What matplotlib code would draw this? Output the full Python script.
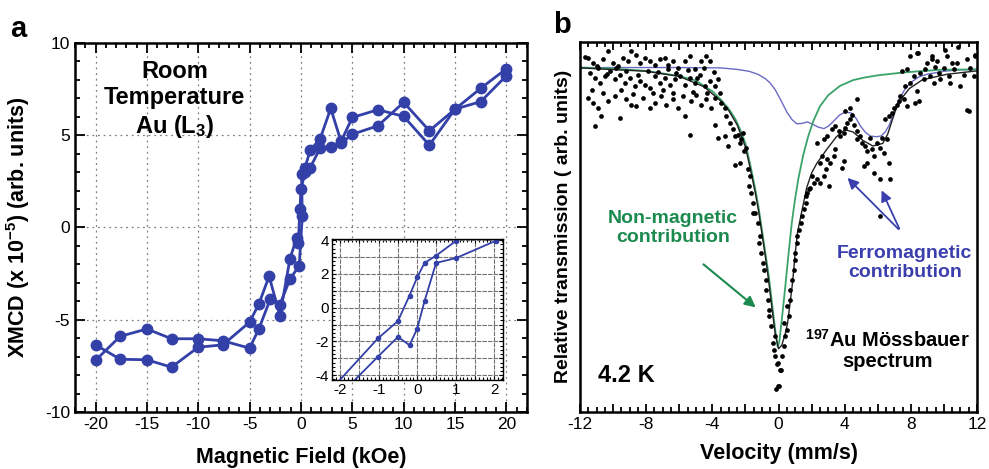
import matplotlib
matplotlib.use("Agg")
import matplotlib.pyplot as plt
from matplotlib.ticker import MultipleLocator, FuncFormatter

plt.rcParams['font.family'] = ['Liberation Sans', 'DejaVu Sans']
plt.rcParams['mathtext.fontset'] = 'custom'
plt.rcParams['mathtext.rm'] = 'Liberation Sans'
plt.rcParams['mathtext.bf'] = 'Liberation Sans:bold'
plt.rcParams['mathtext.it'] = 'Liberation Sans:italic'
plt.rcParams['axes.unicode_minus'] = False

# ---- (a) laco XMCD, dois ramos ----
campo_sobe = [-20, -17.6, -15, -12.6, -10, -7.6, -5, -4.1, -3.0, -2.05, -1.07, -0.17, 0.13,
              0.06, 0.4, 0.9, 1.85, 2.9, 3.9, 5.0, 7.5, 10, 12.5, 15, 17.5, 20]
xmcd_sobe = [-7.2, -5.9, -5.5, -6.03, -6.03, -6.14, -6.54, -5.5, -3.9, -4.18, -2.8, -2.07, 0.61,
             2.88, 3.24, 4.2, 4.78, 6.45, 4.66, 5.96, 6.38, 6.02, 4.46, 6.41, 6.82, 8.22]
campo_desce = [20, 17.5, 15, 12.5, 10, 7.5, 5, 3.9, 2.9, 1.85, 0.9, 0.4, 0.0, -0.1, -0.26,
               -0.42, -1.07, -2.05, -3.1, -4.1, -5, -7.6, -10, -12.6, -15, -17.6, -20]
xmcd_desce = [8.6, 7.54, 6.41, 5.24, 6.78, 5.51, 5.05, 4.55, 4.38, 4.28, 3.24, 3.0, 2.07, 0.98, -0.83,
              -0.56, -1.7, -4.78, -2.64, -4.15, -5.13, -6.36, -6.49, -7.57, -7.17, -7.14, -6.36]

# inset
campo_in1 = [-2.5, -1.02, -0.5, -0.2, 0.0, 0.19, 0.49, 1.01, 2.0]
xmcd_in1 = [-5.5, -1.82, -0.79, 0.72, 1.8, 2.65, 3.08, 3.96, 5.0]
campo_in2 = [-2.5, -1.02, -0.5, -0.2, 0.0, 0.19, 0.49, 1.01, 2.04]
xmcd_in2 = [-6.3, -2.9, -1.73, -2.22, -1.24, 0.39, 2.65, 2.94, 3.96]

# ---- (b) espectro Mossbauer ----
vel_dados = [-11.52, -11.21, -10.91, -10.61, -10.31, -10.01, -9.70, -9.40, -9.10, -8.90, -8.60, -8.40,
             -8.10, -7.79, -7.49, -7.19, -6.89, -6.68, -6.38, -6.08, -5.68, -5.38, -5.07, -4.67, -4.37, -4.17,
             -11.42, -11.11, -10.81, -10.51, -10.21, -9.91, -9.60, -9.30, -9.00, -8.70, -8.40, -8.10, -7.79,
             -7.49, -7.19, -6.89, -6.58, -6.28, -5.98, -5.68, -5.38, -5.07, -4.77, -4.47, -4.17, -3.87, -3.67,
             -11.52, -11.21, -10.91, -10.71, -10.31, -9.91, -9.20, -8.90, -8.60, -8.20, -7.79, -7.49, -7.09,
             -6.79, -6.38, -6.08, -5.68, -5.28, -4.97, -4.67, -4.37, -4.07, -3.87, -3.56, -3.46, -3.26,
             -11.11, -9.60, -5.38, -3.87, -3.26, -3.06, -3.67,
             -3.16, -2.96, -2.76, -2.66, -2.46, -2.36, -2.26, -2.16, -2.06, -1.96, -2.66, -2.36, -1.85, -1.75,
             -1.81, -1.65, -1.55, -1.55, -1.45, -1.25, -1.15, -1.20, -1.05, -0.95, -0.85, -0.75, -0.75, -0.65,
             -0.55, -0.55, -0.44, -0.24, -0.34, -0.24, -0.04, 0.06, -0.04, -0.14,
             -0.28, -0.08, 0.02, 0.12, 0.22, 0.32, 0.42, 0.52, 0.32, 0.62, 0.52, 0.72, 0.72, 0.82, 0.92, 1.02,
             1.02, 1.12, 1.12, 1.23, 1.33, 1.43, 1.53, 1.63, 1.63, 1.73, 1.83, 1.93, 2.13, 2.03, 2.33, 2.53,
             2.73, 2.84, 2.94, 3.04, 3.14, 3.34, 3.44, 2.53, 2.63, 2.33, 2.73, 2.94, 3.24, 3.44, 3.64, 3.74,
             3.94, 4.04, 4.14, 4.35, 4.55, 4.75, 4.95, 3.84, 3.94, 4.04, 4.35, 4.45, 4.75, 5.05, 5.25, 5.35,
             5.55, 5.65, 5.75, 5.96, 6.16, 6.26, 6.36, 6.56, 6.66, 5.75, 6.16, 6.76, 5.15, 5.35, 6.16, 6.46,
             6.66, 6.86, 6.96, 7.16, 7.26, 7.36, 7.57, 7.67, 7.77, 7.97, 8.17, 8.27, 8.37, 8.47, 8.57, 8.77,
             8.87, 8.98, 9.18, 9.28, 9.38, 9.58, 9.68, 9.78, 9.98, 10.18, 10.28, 10.38, 10.59, 10.79, 10.99,
             11.19, 11.39, 11.49, 11.59, 11.79, 11.89, 7.77, 7.47, 7.97, 8.37, 4.75,
             8.45, 9.26, 10.06, 10.87, 11.87, 10.46, 9.46, 11.37,
             -11.68, -11.0, -10.4, -9.8, -9.2, -8.5, -7.9, -7.3, -6.7, -6.2, -5.5, -4.9, -4.5, -3.9,
             -11.3, -10.6, -9.5, -8.8, -7.6, -7.0, -6.4, -5.8, -5.2, -4.3]
trans_dados = [95.6, 94.3, 92.9, 95.2, 97.4, 94.3, 93.4, 95.6, 94.7, 97.4, 96.5, 94.3,
               95.6, 94.7, 93.8, 95.2, 95.6, 93.8, 94.7, 92.9, 94.7, 96.1, 92.5, 94.7, 96.1, 94.7,
               91.6, 90.2, 88.9, 90.7, 92.0, 89.8, 91.1, 88.9, 90.2, 88.0, 89.3, 88.4, 87.5,
               90.7, 88.9, 90.2, 88.4, 89.8, 90.7, 88.4, 90.2, 88.9, 91.1, 88.0, 89.3, 88.0, 89.8,
               84.8, 83.5, 82.1, 79.9, 83.9, 85.3, 84.4, 83.0, 82.6, 84.8, 82.1, 83.5, 85.3,
               83.0, 84.4, 82.1, 79.9, 83.9, 85.7, 83.0, 84.4, 82.1, 84.8, 86.2, 83.5, 82.1,
               77.2, 79.4, 74.9, 77.6, 74.5, 71.8, 74.0,
               79.9, 78.1, 76.3, 74.5, 74.9, 72.7, 73.6, 75.4, 70.4, 71.3, 66.8, 67.3, 65.5, 63.7,
               61.0, 59.2, 56.5, 53.8, 53.8, 51.0, 47.4, 45.6, 42.9, 40.2, 38.4, 35.7, 33.0, 30.3,
               27.6, 25.8, 23.1, 20.4, 18.6, 15.0, 13.2, 11.4, 6.9, 6.0,
               16.8, 12.8, 6.9, 11.4, 15.0, 17.7, 20.4, 22.2, 24.0, 25.8, 28.5, 30.3, 33.0, 35.7, 38.4, 41.1,
               42.9, 45.6, 47.4, 49.2, 51.0, 52.8, 54.7, 56.5, 58.3, 59.2, 60.1, 60.5, 61.9, 63.7, 62.8, 61.9,
               63.7, 65.5, 68.2, 61.0, 67.3, 69.1, 70.9, 67.3, 69.1, 72.7, 73.6, 74.5, 76.3, 77.2, 75.8, 74.5,
               75.4, 76.7, 78.1, 79.0, 77.6, 75.8, 74.5, 65.9, 67.7, 81.2, 82.1, 80.3, 73.6, 72.7, 71.8, 70.4,
               74.0, 70.9, 69.1, 72.7, 71.3, 74.0, 70.0, 73.6, 67.3, 64.6, 62.8, 62.8, 66.4, 67.3, 52.9, 79.0,
               79.9, 80.8, 82.1, 83.0, 83.9, 85.3, 84.4, 88.0, 82.6, 88.9, 90.7, 83.5, 86.6, 83.9, 91.6, 89.8,
               92.5, 94.3, 90.7, 95.2, 88.9, 94.7, 91.6, 89.8, 93.0, 96.1, 90.7, 88.9, 92.5, 94.3, 88.0,
               91.1, 95.2, 81.2, 93.0, 90.7, 96.1, 92.5, 92.0, 96.1, 97.0, 84.4,
               96.9, 96.0, 97.8, 98.6, 96.4, 94.2, 93.2, 81.5,
               95.9, 93.5, 91.3, 93.0, 92.0, 91.0, 92.2, 91.8, 92.6, 91.5, 92.4, 90.3, 92.8, 91.9,
               87.0, 86.2, 86.8, 85.9, 86.1, 86.9, 86.0, 85.4, 86.5, 86.0]

# ajuste total (preto)
vel_fit = [-12, -8, -6, -4.5, -3.5, -3, -2.5, -2.0, -1.7, -1.4, -1.2, -1.0, -0.8, -0.6, -0.4, -0.2,
           0.0, 0.2, 0.4, 0.55, 0.7, 0.85, 1.0, 1.15, 1.4, 1.7, 2.0, 2.3, 2.9, 3.5, 4.0, 4.5, 5.1,
           5.7, 6.3, 6.6, 6.8, 7.1, 7.5, 7.9, 8.7, 10.2, 12]
trans_fit = [92.9, 92.0, 90.6, 87.8, 84.0, 81.3, 77.5, 71.5, 65.5, 59.0, 54.0, 48.0, 42.0, 35.5, 28.0, 21.0,
             17.0, 18.0, 21.0, 24.0, 29.5, 35.0, 42.5, 48.5, 54.0, 60.5, 64.5, 67.0, 70.8, 74.3, 76.2, 75.6, 73.3,
             71.8, 72.5, 75.0, 77.8, 81.8, 85.0, 87.3, 89.7, 91.2, 92.1]

# componente nao magnetica (verde)
vel_nm = [-12, -10, -8, -6, -5, -4.5, -4, -3.5, -3, -2.6, -2.3, -2.0, -1.7, -1.4, -1.2, -1.0, -0.8,
          -0.6, -0.4, -0.2, -0.05, 0.05, 0.2, 0.4, 0.6, 0.8, 1.0, 1.2, 1.5, 1.8, 2.1, 2.5, 3.0, 3.7,
          4.5, 5.2, 6.0, 7.4, 8.5, 9.8, 12]
trans_nm = [93.0, 92.7, 92.1, 90.7, 89.5, 88.0, 86.6, 84.4, 81.8, 79.0, 76.0, 72.5, 66.5, 60.0, 55.0, 49.0, 43.0,
            37.0, 29.5, 22.0, 17.5, 19.0, 25.0, 33.5, 42.5, 51.0, 57.5, 63.0, 69.5, 74.5, 78.5, 82.5, 85.5, 88.0,
            89.6, 90.3, 90.9, 91.6, 92.0, 92.4, 92.5]

# componente ferromagnetica (azul)
vel_fm = [-12, -6, -3.5, -2.5, -1.8, -1.25, -0.8, -0.5, -0.2, 0.1, 0.5, 0.8, 1.1, 1.4, 1.75, 2.1, 2.4,
          2.75, 3.05, 3.35, 3.7, 4.05, 4.4, 4.7, 4.95, 5.25, 5.55, 5.9, 6.2, 6.45, 6.7, 7.0, 7.3, 7.65,
          8.0, 8.5, 9.0, 10.0, 11.0, 12.0]
trans_fm = [93.0, 93.0, 92.9, 92.5, 92.0, 91.2, 90.0, 88.8, 87.0, 84.5, 81.0, 79.0, 77.8, 77.9, 78.3, 77.6, 76.9,
            76.5, 77.3, 78.6, 80.2, 81.0, 80.7, 79.2, 77.2, 75.5, 74.5, 74.3, 74.5, 75.6, 77.5, 81.0, 84.5, 87.2,
            89.0, 90.5, 91.2, 92.0, 92.4, 92.5]

azul = '#3340a8'
verde_txt = '#1b8a4e'
verde = '#3aa36b'
azul_fit = '#6a6ac4'
azul_txt = '#3b3fae'

fig = plt.figure(figsize=(9.89, 4.69), dpi=100)

# ---------- painel a ----------
ax = fig.add_axes([0.0758, 0.1215, 0.457, 0.787])
ax.plot(campo_sobe, xmcd_sobe, 'o-', color=azul, lw=2, ms=7.5)
ax.plot(campo_desce, xmcd_desce, 'o-', color=azul, lw=2, ms=7.5)
ax.set_xlim(-22, 22)
ax.set_ylim(-10, 10)
ax.xaxis.set_major_locator(MultipleLocator(5))
ax.xaxis.set_minor_locator(MultipleLocator(1))
ax.yaxis.set_major_locator(MultipleLocator(5))
ax.yaxis.set_minor_locator(MultipleLocator(1))
ax.tick_params(which='both', direction='in', top=True, right=True, labelsize=12.5, width=1.3)
ax.tick_params(which='major', length=7)
ax.tick_params(which='minor', length=3.5)
ax.grid(True, which='major', linestyle=(0, (1.5, 3)), color='0.5', lw=0.9)
for s in ax.spines.values():
    s.set_linewidth(1.8)
ax.set_xlabel('Magnetic Field (kOe)', fontsize=15.5, fontweight='bold')
ax.set_ylabel(r'XMCD (x 10$^{\mathbf{-5}}$) (arb. units)', fontsize=15.5, fontweight='bold')
ax.xaxis.set_label_coords(0.5, -0.095)
ax.yaxis.set_label_coords(-0.095, 0.5)
ax.text(-12.3, 9.1, 'Room\nTemperature\nAu (L$_{\\mathbf{3}}$)', fontsize=17, fontweight='bold',
        ha='center', va='top', multialignment='center', linespacing=1.2)

# inset
axi = fig.add_axes([0.3354, 0.1898, 0.1729, 0.300])
axi.set_facecolor('white')
axi.plot(campo_in1, xmcd_in1, 'o-', color=azul, lw=1.3, ms=3)
axi.plot(campo_in2, xmcd_in2, 'o-', color=azul, lw=1.3, ms=3)
axi.set_xlim(-2.22, 2.22)
axi.set_ylim(-4.28, 4.05)
axi.xaxis.set_major_locator(MultipleLocator(0.5))
axi.xaxis.set_minor_locator(MultipleLocator(0.1))
axi.yaxis.set_major_locator(MultipleLocator(1))
axi.yaxis.set_minor_locator(MultipleLocator(0.25))
axi.xaxis.set_major_formatter(FuncFormatter(lambda v, p: '%d' % round(v) if abs(v - round(v)) < 1e-6 else ''))
axi.yaxis.set_major_formatter(FuncFormatter(lambda v, p: '%d' % round(v) if round(v) % 2 == 0 and abs(v - round(v)) < 1e-6 else ''))
axi.tick_params(which='both', direction='in', top=True, right=True, labelsize=11, width=0.8, pad=2)
axi.tick_params(which='major', length=3)
axi.tick_params(which='minor', length=2)
axi.grid(True, which='major', color='0.45', lw=0.8, linestyle=(0, (4, 1)))
for s in axi.spines.values():
    s.set_linewidth(1.0)

# ---------- painel b ----------
bx = fig.add_axes([0.5865, 0.1222, 0.4014, 0.789])
bx.plot(vel_fm, trans_fm, '-', color=azul_fit, lw=1.0)
bx.plot(vel_nm, trans_nm, '-', color=verde, lw=1.3)
bx.plot(vel_fit, trans_fit, '-', color='#222222', lw=1.0)
bx.plot(vel_dados, trans_dados, 'o', color='black', ms=3.4, mew=0, ls='none')
bx.set_xlim(-12, 12)
bx.set_ylim(0, 100)
bx.xaxis.set_major_locator(MultipleLocator(2))
bx.xaxis.set_minor_locator(MultipleLocator(0.5))
bx.xaxis.set_major_formatter(FuncFormatter(lambda v, p: '%d' % round(v) if round(v) % 4 == 0 else ''))
bx.set_yticks([])
bx.tick_params(which='both', direction='in', top=True, labelsize=12.5, width=1.3)
bx.tick_params(which='major', length=6)
bx.tick_params(which='minor', length=3.5)
for s in bx.spines.values():
    s.set_linewidth(1.8)
bx.set_xlabel('Velocity (mm/s)', fontsize=15.5, fontweight='bold')
bx.set_ylabel('Relative transmission ( arb. units)', fontsize=14, fontweight='bold')
bx.xaxis.set_label_coords(0.5, -0.085)
bx.yaxis.set_label_coords(-0.02, 0.5)

bx.text(-6.38, 49.6, 'Non-magnetic\ncontribution', color=verde_txt, fontsize=14, fontweight='bold',
        ha='center', va='center', linespacing=1.1)
bx.annotate('', xy=(-1.25, 27.7), xytext=(-4.67, 40.3),
            arrowprops=dict(arrowstyle='-|>', color=verde_txt, lw=1.5, mutation_scale=16))
bx.text(7.63, 40.2, 'Ferromagnetic\ncontribution', color=azul_txt, fontsize=14, fontweight='bold',
        ha='center', va='center', linespacing=1.1)
bx.annotate('', xy=(4.05, 63.7), xytext=(7.37, 48.8),
            arrowprops=dict(arrowstyle='-|>', color=azul_txt, lw=1.3, mutation_scale=16))
bx.annotate('', xy=(6.16, 60.5), xytext=(7.37, 48.8),
            arrowprops=dict(arrowstyle='-|>', color=azul_txt, lw=1.3, mutation_scale=16))
bx.text(6.6, 16.7, '$^{\\mathbf{197}}$Au M\u00f6ssbauer\nspectrum', fontsize=14.5, fontweight='bold',
        ha='center', va='center', linespacing=1.1)
bx.text(-10.9, 9.9, '4.2 K', fontsize=17, fontweight='bold', ha='left', va='center')

fig.text(0.010, 0.921, 'a', fontsize=21, fontweight='bold')
fig.text(0.559, 0.930, 'b', fontsize=21, fontweight='bold')

fig.savefig('out.png', dpi=100)
